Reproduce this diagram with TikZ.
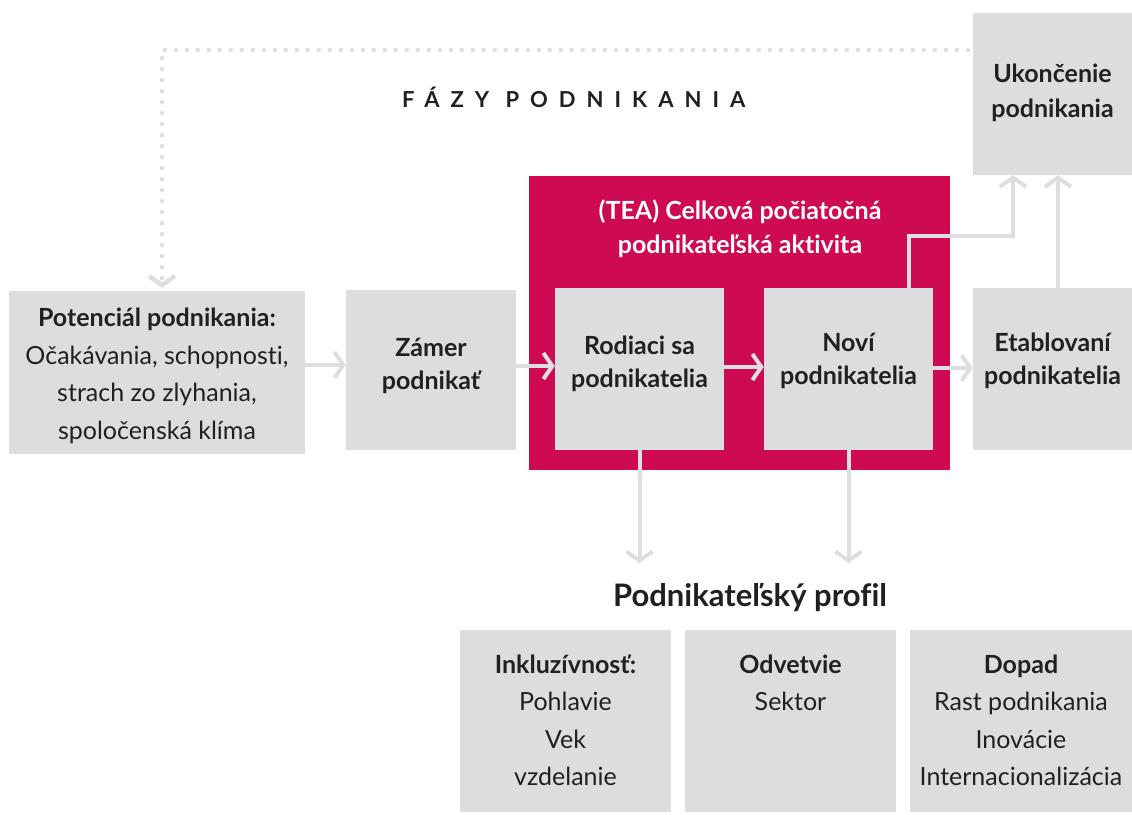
\documentclass[tikz,border=0pt]{standalone}
\usepackage{fontspec}
\setmainfont{Lato}[Ligatures=NoCommon]
\usetikzlibrary{arrows.meta,positioning}

\definecolor{boxgray}{HTML}{DCDDDF}
\definecolor{flowgray}{HTML}{DDDEE0}
\definecolor{teared}{HTML}{CE0B52}
\definecolor{ink}{HTML}{231F20}

\tikzset{
  box/.style={fill=boxgray, inner sep=0pt},
  lbl/.style={text=ink, align=center, inner sep=0pt,
    font=\fontsize{25}{37.5}\selectfont},
  lblb/.style={lbl, font=\fontsize{25}{33}\selectfont\bfseries},
  tealabel/.style={text=white, align=center, inner sep=0pt,
    font=\fontsize{25}{34}\selectfont\bfseries},
  flow/.style={draw=flowgray, line width=4pt,
    -{Straight Barb[sharp, length=9pt, width=26pt]}},
  dots/.style={draw=flowgray, line width=4.5pt, line cap=round,
    dash pattern=on 0pt off 11pt,
    -{Straight Barb[sharp, length=9pt, width=26pt]}}
}

\begin{document}
\begin{tikzpicture}[x=1pt, y=-1pt]
	\useasboundingbox (0,0) rectangle (1132,814);
	% TEA frame
	\node[fill=teared, minimum width=421pt, minimum height=294pt, inner sep=0pt] (tea) at (739.5,323) {};
	\node[tealabel] (teatitle) at (740,229) {(TEA) Celková počiatočná\\podnikateľská aktivita};
	% phases
	\node[box, minimum width=296pt, minimum height=163pt] (pot) at (157,372.5) {};
	\node[box, minimum width=170pt, minimum height=160pt] (zam) at (431,370) {};
	\node[box, minimum width=169pt, minimum height=162pt] (rod) at (639.5,369) {};
	\node[box, minimum width=169pt, minimum height=162pt] (nov) at (848.5,369) {};
	\node[box, minimum width=159pt, minimum height=162pt] (eta) at (1052.5,369) {};
	\node[box, minimum width=159pt, minimum height=162pt] (uko) at (1052.5,94) {};
	\node[lbl] (pottext) at ([yshift=-3.5pt]pot.center)
		{\textbf{Potenciál podnikania:}\\Očakávania, schopnosti,\\strach zo zlyhania,\\spoločenská klíma};
	\node[lblb] (zamtext) at ([yshift=4pt]zam.center) {Zámer\\podnikať};
	\node[lblb] (rodtext) at ([yshift=5pt]rod.center) {Rodiaci sa\\podnikatelia};
	\node[lblb] (novtext) at ([yshift=8pt]nov.center) {Noví\\podnikatelia};
	\node[lblb] (etatext) at ([yshift=8pt]eta.center) {Etablovaní\\podnikatelia};
	\node[lblb, font=\fontsize{25}{35}\selectfont\bfseries] (ukotext) at ([yshift=1pt]uko.center) {Ukončenie\\podnikania};
	% titles
	\node[anchor=base west, inner sep=0pt, text=ink,
		font=\fontsize{22}{22}\selectfont\bfseries\addfontfeature{LetterSpace=50}] (phases) at (402,107) {FÁZY PODNIKANIA};
	\node[anchor=base, inner sep=0pt, text=ink, font=\fontsize{31}{31}\selectfont\bfseries] (profil) at (750,606) {Podnikateľský profil};
	% profile boxes
	\node[box, minimum width=211pt, minimum height=182pt] (inkl) at (565.5,721) {};
	\node[box, minimum width=211pt, minimum height=182pt] (odv) at (790.5,721) {};
	\node[box, minimum width=222pt, minimum height=182pt] (dop) at (1021,721) {};
	\node[lbl, anchor=north] (inkltext) at ([yshift=-24.5pt]inkl.north) {\textbf{Inkluzívnosť:}\\Pohlavie\\Vek\\vzdelanie};
	\node[lbl, anchor=north] (odvtext) at ([yshift=-24.5pt]odv.north) {\textbf{Odvetvie}\\Sektor};
	\node[lbl, anchor=north] (doptext) at ([yshift=-24.5pt]dop.north) {\textbf{Dopad}\\Rast podnikania\\Inovácie\\Internacionalizácia};
	% connectors
	\coordinate (rodout) at (639.5,563);
	\coordinate (novout) at (848.5,563);
	\draw[flow] ([yshift=7.5pt]pot.east) -- ([yshift=5pt]zam.west);
	\draw[flow] ([yshift=4pt]zam.east) -- ([yshift=3pt]rod.west);
	\draw[flow] ([yshift=2pt]rod.east) -- ([yshift=2pt]nov.west);
	\draw[flow] ([yshift=1pt]nov.east) -- ([yshift=1pt]eta.west);
	\draw[flow] ([xshift=60.5pt]nov.north) -- ++(0,-52) -| ([xshift=-39.5pt]uko.south);
	\draw[flow] ([xshift=5.5pt]eta.north) -- ([xshift=5.5pt]uko.south);
	\draw[flow] (rod.south) -- (rodout);
	\draw[flow] (nov.south) -- (novout);
	\draw[dots, shorten <=5pt, shorten >=3pt] ([yshift=44pt]uko.west) -| ([xshift=5pt]pot.north);
\end{tikzpicture}
\end{document}
